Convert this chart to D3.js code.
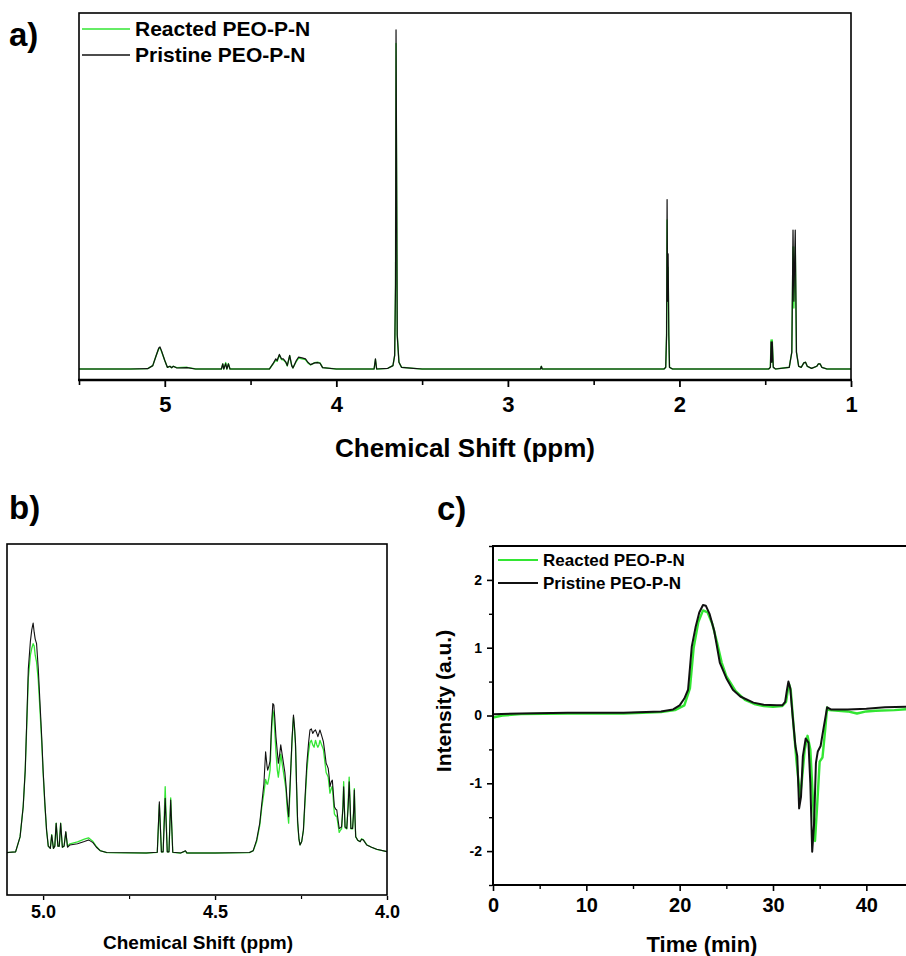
<!DOCTYPE html>
<html><head><meta charset="utf-8">
<script src="https://cdn.jsdelivr.net/npm/d3@7/dist/d3.min.js"></script>
<style>
html,body{margin:0;padding:0;background:#fff;}
svg{display:block;font-family:"Liberation Sans",Arial,sans-serif;font-weight:bold;}
</style></head><body>
<svg id="chart" width="906" height="956"></svg>
<script>
// ---------- DATA ----------
const seriesNames = ["Reacted PEO-P-N", "Pristine PEO-P-N"];
const seriesColors = ["#33e633", "#111111"];

// Panel a: full 1H NMR spectrum [ppm, relative intensity]
const nmrFullPristine = [[5.5,0],[5.2,0],[5.1,0.001],[5.07,0.01],[5.05,0.04],[5.035,0.062],[5.028,0.065],[5.02,0.055],[5.0,0.025],[4.985,0.005],[4.97,0.008],[4.96,0.004],[4.95,0.008],[4.93,0.003],[4.87,0.004],[4.82,0.0],[4.67,0],[4.662,0.015],[4.656,0],[4.645,0.016],[4.638,0],[4.629,0.015],[4.62,0],[4.39,0],[4.37,0.015],[4.353,0.03],[4.345,0.025],[4.332,0.043],[4.32,0.03],[4.309,0.03],[4.294,0.02],[4.286,0.01],[4.272,0.04],[4.26,0.01],[4.253,0.003],[4.233,0.025],[4.22,0.035],[4.2,0.033],[4.18,0.03],[4.166,0.02],[4.15,0.013],[4.126,0.018],[4.11,0.019],[4.095,0.017],[4.08,0.004],[4.0,0],[3.78,0],[3.772,0.03],[3.765,0],[3.7,0.002],[3.67,0.01],[3.66,0.04],[3.655,0.25],[3.652,1.0],[3.648,0.5],[3.645,0.1],[3.635,0.02],[3.62,0.005],[3.55,0.002],[3.5,0],[2.81,0],[2.805,0.008],[2.8,0],[2.09,0],[2.08,0.005],[2.075,0.1],[2.072,0.5],[2.069,0.2],[2.066,0.34],[2.062,0.1],[2.058,0.005],[2.04,0],[1.48,0],[1.47,0.005],[1.466,0.08],[1.462,0.02],[1.459,0.08],[1.453,0.005],[1.44,0],[1.36,0.005],[1.345,0.05],[1.338,0.41],[1.333,0.2],[1.325,0.41],[1.318,0.05],[1.305,0.008],[1.29,0.005],[1.275,0.018],[1.265,0.02],[1.255,0.008],[1.23,0.002],[1.2,0.008],[1.19,0.015],[1.18,0.015],[1.17,0.005],[1.14,0],[1.0,0]];
const nmrFullReacted = [[5.5,0],[5.2,0],[5.1,0.001],[5.07,0.01],[5.05,0.04],[5.035,0.06],[5.028,0.062],[5.02,0.053],[5.0,0.025],[4.985,0.005],[4.97,0.008],[4.96,0.004],[4.95,0.008],[4.93,0.004],[4.87,0.005],[4.82,0.0],[4.67,0],[4.662,0.015],[4.656,0],[4.645,0.019],[4.638,0],[4.629,0.016],[4.62,0],[4.39,0],[4.37,0.014],[4.353,0.026],[4.345,0.023],[4.332,0.041],[4.32,0.028],[4.309,0.027],[4.294,0.019],[4.286,0.009],[4.272,0.039],[4.26,0.01],[4.253,0.003],[4.233,0.023],[4.22,0.032],[4.2,0.03],[4.18,0.028],[4.166,0.018],[4.15,0.012],[4.126,0.019],[4.11,0.02],[4.095,0.018],[4.08,0.004],[4.0,0],[3.78,0],[3.772,0.028],[3.765,0],[3.7,0.002],[3.67,0.01],[3.66,0.04],[3.655,0.24],[3.652,0.96],[3.648,0.48],[3.645,0.1],[3.635,0.02],[3.62,0.005],[3.55,0.002],[3.5,0],[2.81,0],[2.805,0.008],[2.8,0],[2.09,0],[2.08,0.005],[2.075,0.1],[2.072,0.44],[2.069,0.2],[2.066,0.3],[2.062,0.1],[2.058,0.005],[2.04,0],[1.48,0],[1.47,0.005],[1.466,0.086],[1.462,0.02],[1.459,0.086],[1.453,0.005],[1.44,0],[1.36,0.005],[1.345,0.05],[1.338,0.36],[1.333,0.18],[1.325,0.36],[1.318,0.05],[1.305,0.008],[1.29,0.005],[1.275,0.018],[1.265,0.02],[1.255,0.008],[1.23,0.002],[1.2,0.008],[1.19,0.015],[1.18,0.015],[1.17,0.005],[1.14,0],[1.0,0]];

// Panel b: 5.1-4.0 ppm expansion [ppm, relative intensity]
const nmrZoomPristine = [[5.105,0.002],[5.08,0.005],[5.067,0.07],[5.058,0.2],[5.052,0.36],[5.047,0.6],[5.043,0.8],[5.037,0.92],[5.033,0.97],[5.029,1.0],[5.026,0.96],[5.023,0.93],[5.019,0.91],[5.014,0.8],[5.009,0.65],[5.004,0.5],[5.0,0.36],[4.995,0.22],[4.99,0.1],[4.985,0.03],[4.979,0.02],[4.975,0.078],[4.97,0.02],[4.966,0.03],[4.962,0.129],[4.957,0.03],[4.953,0.03],[4.949,0.129],[4.944,0.025],[4.939,0.03],[4.934,0.093],[4.929,0.025],[4.922,0.035],[4.9,0.04],[4.88,0.05],[4.868,0.057],[4.855,0.045],[4.845,0.025],[4.834,0.01],[4.815,0.002],[4.7,0.0],[4.668,0.003],[4.662,0.223],[4.656,0.005],[4.651,0.005],[4.645,0.238],[4.639,0.005],[4.634,0.005],[4.629,0.23],[4.623,0.003],[4.6,0.0],[4.586,0.01],[4.582,0],[4.5,0.0],[4.4,0.002],[4.389,0.01],[4.379,0.057],[4.37,0.13],[4.364,0.216],[4.358,0.3],[4.353,0.44],[4.349,0.38],[4.347,0.36],[4.343,0.38],[4.34,0.4],[4.336,0.55],[4.332,0.65],[4.329,0.643],[4.326,0.58],[4.323,0.506],[4.319,0.44],[4.316,0.39],[4.312,0.43],[4.309,0.47],[4.305,0.43],[4.301,0.39],[4.297,0.35],[4.294,0.3],[4.29,0.22],[4.286,0.158],[4.283,0.26],[4.28,0.36],[4.276,0.5],[4.272,0.6],[4.269,0.55],[4.266,0.477],[4.263,0.3],[4.26,0.143],[4.256,0.06],[4.253,0.035],[4.248,0.05],[4.243,0.1],[4.238,0.25],[4.233,0.39],[4.228,0.48],[4.224,0.535],[4.22,0.54],[4.216,0.52],[4.212,0.53],[4.208,0.535],[4.204,0.52],[4.201,0.506],[4.198,0.52],[4.195,0.535],[4.19,0.51],[4.185,0.484],[4.181,0.44],[4.177,0.39],[4.174,0.38],[4.171,0.368],[4.168,0.33],[4.166,0.288],[4.162,0.31],[4.159,0.317],[4.156,0.26],[4.153,0.201],[4.149,0.19],[4.146,0.187],[4.142,0.14],[4.139,0.107],[4.135,0.11],[4.132,0.114],[4.128,0.2],[4.126,0.288],[4.124,0.2],[4.122,0.114],[4.117,0.107],[4.113,0.2],[4.11,0.31],[4.107,0.2],[4.105,0.107],[4.1,0.107],[4.097,0.18],[4.095,0.274],[4.093,0.15],[4.091,0.071],[4.085,0.055],[4.078,0.049],[4.074,0.06],[4.069,0.057],[4.059,0.035],[4.045,0.025],[4.03,0.016],[4.0,0.006]];
const nmrZoomReacted = [[5.105,0.002],[5.08,0.005],[5.067,0.07],[5.058,0.2],[5.052,0.36],[5.047,0.58],[5.043,0.76],[5.037,0.86],[5.033,0.89],[5.029,0.91],[5.026,0.9],[5.023,0.86],[5.019,0.83],[5.014,0.75],[5.009,0.62],[5.004,0.48],[5.0,0.35],[4.995,0.21],[4.99,0.1],[4.985,0.03],[4.979,0.02],[4.975,0.08],[4.97,0.02],[4.966,0.03],[4.962,0.13],[4.957,0.03],[4.953,0.03],[4.949,0.13],[4.944,0.025],[4.939,0.03],[4.934,0.09],[4.929,0.03],[4.922,0.04],[4.9,0.048],[4.88,0.06],[4.868,0.066],[4.855,0.05],[4.845,0.028],[4.834,0.01],[4.815,0.002],[4.7,0.0],[4.668,0.003],[4.662,0.21],[4.656,0.005],[4.651,0.005],[4.645,0.288],[4.639,0.005],[4.634,0.005],[4.629,0.24],[4.623,0.003],[4.6,0.0],[4.586,0.008],[4.582,0],[4.5,0.0],[4.4,0.002],[4.389,0.01],[4.379,0.05],[4.37,0.12],[4.364,0.2],[4.358,0.26],[4.353,0.32],[4.349,0.3],[4.347,0.3],[4.343,0.33],[4.34,0.36],[4.336,0.52],[4.332,0.62],[4.329,0.6],[4.326,0.52],[4.323,0.44],[4.319,0.36],[4.316,0.33],[4.312,0.38],[4.309,0.43],[4.305,0.39],[4.301,0.35],[4.297,0.31],[4.294,0.28],[4.29,0.19],[4.286,0.13],[4.283,0.24],[4.28,0.35],[4.276,0.49],[4.272,0.59],[4.269,0.54],[4.266,0.46],[4.263,0.28],[4.26,0.13],[4.256,0.06],[4.253,0.035],[4.248,0.05],[4.243,0.1],[4.238,0.23],[4.233,0.36],[4.228,0.44],[4.224,0.48],[4.22,0.49],[4.216,0.47],[4.212,0.46],[4.208,0.49],[4.204,0.47],[4.201,0.46],[4.198,0.47],[4.195,0.49],[4.19,0.47],[4.185,0.45],[4.181,0.4],[4.177,0.35],[4.174,0.34],[4.171,0.33],[4.168,0.29],[4.166,0.26],[4.162,0.28],[4.159,0.29],[4.156,0.23],[4.153,0.17],[4.149,0.16],[4.146,0.16],[4.142,0.12],[4.139,0.09],[4.135,0.1],[4.132,0.105],[4.128,0.21],[4.126,0.31],[4.124,0.2],[4.122,0.11],[4.117,0.105],[4.113,0.22],[4.11,0.33],[4.107,0.2],[4.105,0.105],[4.1,0.105],[4.097,0.19],[4.095,0.28],[4.093,0.15],[4.091,0.07],[4.085,0.055],[4.078,0.05],[4.074,0.062],[4.069,0.058],[4.059,0.036],[4.045,0.025],[4.03,0.016],[4.0,0.006]];

// Panel c: GPC trace [time (min), intensity (a.u.)]
const gpcPristine = [[0,0.02],[3,0.03],[8,0.04],[14,0.04],[18,0.06],[19.3,0.09],[20,0.15],[20.5,0.25],[20.9,0.38],[21.1,0.7],[21.3,1.02],[21.7,1.3],[22.1,1.52],[22.5,1.63],[22.8,1.62],[23.2,1.5],[23.7,1.25],[24.3,0.78],[25,0.55],[25.7,0.38],[26.5,0.28],[27.9,0.19],[29,0.16],[30.4,0.15],[31,0.15],[31.3,0.2],[31.5,0.38],[31.65,0.5],[31.85,0.4],[32.1,0.0],[32.4,-0.45],[32.6,-0.6],[32.8,-1.37],[33.0,-1.2],[33.2,-0.6],[33.5,-0.34],[33.8,-0.4],[34.0,-1.0],[34.2,-2.01],[34.4,-1.6],[34.6,-0.7],[34.8,-0.53],[35.1,-0.45],[35.4,-0.2],[35.8,0.12],[36.2,0.09],[38,0.09],[40,0.1],[42,0.12],[45,0.13]];
const gpcReacted = [[0,-0.03],[1,0.0],[3,0.02],[8,0.03],[14,0.03],[18,0.05],[19.5,0.08],[20.5,0.15],[21.1,0.4],[21.5,1.0],[22,1.38],[22.5,1.55],[23,1.52],[23.5,1.35],[24,1.08],[24.5,0.78],[25,0.58],[26,0.36],[27,0.23],[28,0.17],[29,0.14],[30,0.13],[31,0.14],[31.4,0.2],[31.7,0.47],[31.9,0.38],[32.2,-0.15],[32.5,-0.65],[32.9,-1.2],[33.1,-0.95],[33.4,-0.5],[33.7,-0.3],[34.0,-0.5],[34.3,-1.3],[34.5,-1.85],[34.7,-1.4],[35.0,-0.68],[35.3,-0.62],[35.6,-0.2],[35.8,0.12],[36,0.08],[37,0.07],[38,0.06],[39,0.03],[40,0.06],[41,0.07],[43,0.08],[45,0.1]];

const ticksA = [5, 4, 3, 2, 1];
const minorTicksA = [5.5, 4.5, 3.5, 2.5, 1.5];
const ticksB = [5.0, 4.5, 4.0];
const minorTicksB = [4.75, 4.25];
const ticksCx = [0, 10, 20, 30, 40];
const minorTicksCx = [5, 15, 25, 35, 45];
const ticksCy = [-2, -1, 0, 1, 2];
const minorTicksCy = [-2.5, -1.5, -0.5, 0.5, 1.5, 2.5];

// ---------- DRAW ----------
const svg = d3.select("#chart");

function drawLines(g, x, y, data, widths) {
  const line = d3.line().x(d => x(d[0])).y(d => y(d[1]));
  data.forEach((d, i) => {
    g.append("path").datum(d).attr("fill", "none")
      .attr("stroke", seriesColors[i]).attr("stroke-width", widths[i])
      .attr("stroke-linejoin", "round").attr("d", line);
  });
}

function styleAxis(g, sw) {
  g.select(".domain").remove();
  g.selectAll(".tick line").attr("stroke", "#000").attr("stroke-width", sw);
  g.selectAll("text").attr("fill", "#000").style("font-weight", "bold");
}

// Panel a
{
  const x = d3.scaleLinear().domain([5.5, 1]).range([79, 851]);
  const y = d3.scaleLinear().domain([-0.0324, 1.05]).range([380, 13]);
  svg.append("clipPath").attr("id", "clipA").append("rect")
    .attr("x", 79).attr("y", 13).attr("width", 772).attr("height", 367);
  const g = svg.append("g").attr("clip-path", "url(#clipA)");
  drawLines(g, x, y, [nmrFullReacted, nmrFullPristine], [1.4, 1.2]);
  svg.append("rect").attr("x", 79).attr("y", 13).attr("width", 772).attr("height", 367)
    .attr("fill", "none").attr("stroke", "#000").attr("stroke-width", 1.6);
  svg.append("line").attr("x1", 78).attr("x2", 852).attr("y1", 380).attr("y2", 380)
    .attr("stroke", "#000").attr("stroke-width", 2.6);
  const ax = svg.append("g").attr("transform", "translate(0,381)")
    .call(d3.axisBottom(x).tickValues(ticksA).tickSize(6).tickPadding(9).tickFormat(d => String(d)));
  styleAxis(ax, 1.8);
  ax.selectAll("text").style("font-size", "22px");
  const axm = svg.append("g").attr("transform", "translate(0,381)")
    .call(d3.axisBottom(x).tickValues(minorTicksA).tickSize(4).tickFormat(""));
  styleAxis(axm, 1.6);
  svg.append("text").attr("x", 465).attr("y", 457).attr("text-anchor", "middle")
    .style("font-size", "26px").text("Chemical Shift (ppm)");
  svg.append("text").attr("x", 9).attr("y", 46).style("font-size", "33px").text("a)");
  seriesNames.forEach((n, i) => {
    const yy = 29 + i * 26;
    svg.append("line").attr("x1", 82).attr("x2", 130).attr("y1", yy).attr("y2", yy)
      .attr("stroke", seriesColors[i]).attr("stroke-width", 1.4);
    svg.append("text").attr("x", 135).attr("y", yy + 7).style("font-size", "21px").text(n);
  });
}

// Panel b
{
  const x = d3.scaleLinear().domain([5.105, 4.0]).range([7, 387]);
  const y = d3.scaleLinear().domain([-0.1826, 1.3435]).range([895, 544]);
  svg.append("clipPath").attr("id", "clipB").append("rect")
    .attr("x", 7).attr("y", 544).attr("width", 380).attr("height", 351);
  const g = svg.append("g").attr("clip-path", "url(#clipB)");
  drawLines(g, x, y, [nmrZoomReacted, nmrZoomPristine], [1.3, 1.1]);
  svg.append("rect").attr("x", 7).attr("y", 544).attr("width", 380).attr("height", 351)
    .attr("fill", "none").attr("stroke", "#000").attr("stroke-width", 1.6);
  const ax = svg.append("g").attr("transform", "translate(0,896)")
    .call(d3.axisBottom(x).tickValues(ticksB).tickSize(4).tickPadding(5).tickFormat(d3.format(".1f")));
  styleAxis(ax, 1.4);
  ax.selectAll("text").style("font-size", "18px");
  const axm = svg.append("g").attr("transform", "translate(0,896)")
    .call(d3.axisBottom(x).tickValues(minorTicksB).tickSize(3).tickFormat(""));
  styleAxis(axm, 1.2);
  svg.append("text").attr("x", 198).attr("y", 949).attr("text-anchor", "middle")
    .style("font-size", "19px").text("Chemical Shift (ppm)");
  svg.append("text").attr("x", 9).attr("y", 519).style("font-size", "33px").text("b)");
}

// Panel c
{
  const x = d3.scaleLinear().domain([0, 45]).range([493, 913]);
  const y = d3.scaleLinear().domain([-2.5, 2.5]).range([885, 546]);
  svg.append("clipPath").attr("id", "clipC").append("rect")
    .attr("x", 493).attr("y", 546).attr("width", 420).attr("height", 339);
  const g = svg.append("g").attr("clip-path", "url(#clipC)");
  drawLines(g, x, y, [gpcReacted, gpcPristine], [2.4, 2.0]);
  svg.append("rect").attr("x", 493).attr("y", 546).attr("width", 420).attr("height", 339)
    .attr("fill", "none").attr("stroke", "#000").attr("stroke-width", 2);
  const ax = svg.append("g").attr("transform", "translate(0,886)")
    .call(d3.axisBottom(x).tickValues(ticksCx).tickSize(5).tickPadding(7).tickFormat(d => String(d)));
  styleAxis(ax, 1.6);
  ax.selectAll("text").style("font-size", "20px");
  const axm = svg.append("g").attr("transform", "translate(0,886)")
    .call(d3.axisBottom(x).tickValues(minorTicksCx).tickSize(3).tickFormat(""));
  styleAxis(axm, 1.4);
  const ay = svg.append("g").attr("transform", "translate(492,0)")
    .call(d3.axisLeft(y).tickValues(ticksCy).tickSize(5).tickPadding(5).tickFormat(d => String(d)));
  styleAxis(ay, 1.6);
  ay.selectAll("text").style("font-size", "14px");
  const aym = svg.append("g").attr("transform", "translate(492,0)")
    .call(d3.axisLeft(y).tickValues(minorTicksCy).tickSize(3).tickFormat(""));
  styleAxis(aym, 1.4);
  svg.append("text").attr("x", 702).attr("y", 952).attr("text-anchor", "middle")
    .style("font-size", "22px").text("Time (min)");
  svg.append("text").attr("transform", "translate(451,701) rotate(-90)").attr("text-anchor", "middle")
    .style("font-size", "21px").text("Intensity (a.u.)");
  svg.append("text").attr("x", 437).attr("y", 520).style("font-size", "33px").text("c)");
  seriesNames.forEach((n, i) => {
    const yy = 560 + i * 23;
    svg.append("line").attr("x1", 498).attr("x2", 538).attr("y1", yy).attr("y2", yy)
      .attr("stroke", seriesColors[i]).attr("stroke-width", 2.2);
    svg.append("text").attr("x", 543).attr("y", yy + 6).style("font-size", "17px").text(n);
  });
}
</script>
</body></html>
